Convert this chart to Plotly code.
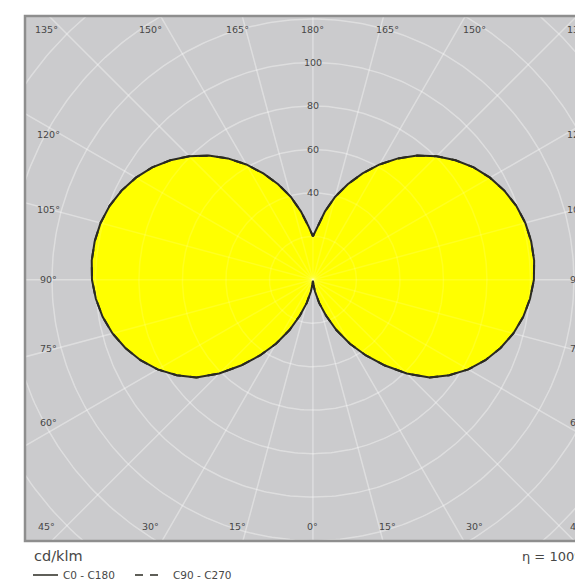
"""
Polar luminous intensity diagram (cd/klm) drawn on a square grey panel,
in the style of a photometric data sheet.
"""

import numpy as np
import plotly.graph_objects as go

# ------------------------------------------------------------------
# Data
# ------------------------------------------------------------------
# gamma angle in degrees, 0 = straight down, 180 = straight up
GAMMA = [0, 5, 10, 15, 20, 25, 30, 35, 40, 45, 50, 55, 60, 65, 70, 75, 80, 85, 90,
         95, 100, 105, 110, 115, 120, 125, 130, 135, 140, 145, 150, 155, 160, 165,
         170, 175, 180]

# intensity in cd/klm along the C0 / C180 half planes
C0_C180 = [0.5, 2.0, 5.5, 11.0, 17.5, 25.5, 34.0, 42.5, 51.5, 61.0, 70.0, 76.5,
           82.5, 87.5, 91.8, 95.4, 98.2, 100.2, 101.6, 102.1, 101.9, 101.1, 99.5,
           97.1, 94.0, 90.2, 85.6, 80.4, 74.6, 68.2, 61.3, 54.0, 46.8, 39.6, 32.0,
           25.0, 20.0]

# the C90 / C270 curve sits exactly under the C0 / C180 one
C90_C270 = list(C0_C180)

RADIAL_TICKS = [40, 60, 80, 100]
GRID_RADII = [20, 40, 60, 80, 100, 120, 140, 160, 180]
GRID_ANGLES = list(range(0, 360, 15))

TOP_LABELS = ["135°", "150°", "165°", "180°", "165°", "150°", "135°"]
BOTTOM_LABELS = ["45°", "30°", "15°", "0°", "15°", "30°", "45°"]
SIDE_LABELS = ["120°", "105°", "90°", "75°", "60°"]

UNIT_LABEL = "cd/klm"
LEGEND_LABELS = ["C0 - C180", "C90 - C270"]
EFFICIENCY_LABEL = "η = 100%"

# ------------------------------------------------------------------
# Layout constants (page pixels, body margin removed below)
# ------------------------------------------------------------------
PANEL_GREY = "#cbcbcd"
GRID_UNDER = "rgba(255,255,255,0.27)"
GRID_OVER = "rgba(255,255,255,0.13)"
FILL_COLOUR = "#ffff00"
CURVE_COLOUR = "#2a2a22"
TEXT_COLOUR = "#474747"
FONT = "DejaVu Sans"

X_RANGE = [-132.4, 120.5]
Y_RANGE = [-120.2, 121.4]

# label columns: inner ones in data units, the right-hand column sits past
# the window edge so it goes in paper units (data refs outside range are hidden)
TOP_X = [-122.5, -74.5, -34.5, 0, 34.5, 74.5]
TOP_Y = 115.0
BOTTOM_Y = -113.6
SIDE_Y = [67, 32.2, 0, -31.5, -65.5]
LEFT_X = -121.8
RIGHT_PAPER_X = (578 - 25) / 550


def half_plane(values, side):
    """Turn a gamma/intensity profile into x, y for one side of the diagram."""
    g = np.radians(GAMMA)
    v = np.asarray(values, dtype=float)
    return side * v * np.sin(g), -v * np.cos(g)


def outline(values):
    rx, ry = half_plane(values, 1)
    lx, ly = half_plane(values, -1)
    return np.concatenate([rx, lx[::-1]]), np.concatenate([ry, ly[::-1]])


def grid():
    xs, ys = [], []
    t = np.linspace(0, 2 * np.pi, 361)
    for r in GRID_RADII:
        xs += list(r * np.cos(t)) + [None]
        ys += list(r * np.sin(t)) + [None]
    for a in GRID_ANGLES:
        rad = np.radians(a)
        xs += [0, 220 * np.sin(rad), None]
        ys += [0, -220 * np.cos(rad), None]
    return xs, ys


fig = go.Figure()

gx, gy = grid()
fig.add_trace(go.Scatter(x=gx, y=gy, mode="lines",
                         line=dict(color=GRID_UNDER, width=1.5),
                         hoverinfo="skip", showlegend=False))

cx, cy = outline(C0_C180)
fig.add_trace(go.Scatter(x=cx, y=cy, mode="lines", fill="toself",
                         fillcolor=FILL_COLOUR, line=dict(width=0),
                         hoverinfo="skip", showlegend=False))

fig.add_trace(go.Scatter(x=gx, y=gy, mode="lines",
                         line=dict(color=GRID_OVER, width=1.5),
                         hoverinfo="skip", showlegend=False))

dx, dy = outline(C90_C270)
fig.add_trace(go.Scatter(x=dx, y=dy, mode="lines", name=LEGEND_LABELS[1],
                         line=dict(color=CURVE_COLOUR, width=2, dash="dash"),
                         showlegend=False))
fig.add_trace(go.Scatter(x=cx, y=cy, mode="lines", name=LEGEND_LABELS[0],
                         line=dict(color=CURVE_COLOUR, width=2),
                         showlegend=False))

annotations = []


def label(text, x, y, size=10, xref="x", yref="y", xanchor="center"):
    annotations.append(dict(text=text, x=x, y=y, xref=xref, yref=yref,
                            showarrow=False, xanchor=xanchor, yanchor="middle",
                            font=dict(family=FONT, size=size, color=TEXT_COLOUR)))


for t, x in zip(TOP_LABELS, TOP_X):
    label(t, x, TOP_Y, size=9.5)
for t, x in zip(BOTTOM_LABELS, TOP_X):
    label(t, x, BOTTOM_Y, size=9.5)
label(TOP_LABELS[-1], RIGHT_PAPER_X, TOP_Y, size=9.5, xref="paper")
label(BOTTOM_LABELS[-1], RIGHT_PAPER_X, BOTTOM_Y, size=9.5, xref="paper")
for t, y in zip(SIDE_LABELS, SIDE_Y):
    label(t, LEFT_X, y, size=9.5)
    label(t, RIGHT_PAPER_X, y, size=9.5, xref="paper")
for r in RADIAL_TICKS:
    label(str(r), 0, r, size=9.5)


# ------------------------------------------------------------------
# Footer: unit, line key and efficiency (paper coordinates)
# ------------------------------------------------------------------
def px(x):
    return (x - 25) / 550


def py(y):
    return (541 - y) / 525


label(UNIT_LABEL, px(32), py(556), size=14.5, xref="paper", yref="paper",
      xanchor="left")
label(LEGEND_LABELS[0], px(61), py(575), size=10.5, xref="paper", yref="paper",
      xanchor="left")
label(LEGEND_LABELS[1], px(171), py(575), size=10.5, xref="paper", yref="paper",
      xanchor="left")
label(EFFICIENCY_LABEL, px(520), py(556), size=13, xref="paper", yref="paper",
      xanchor="left")

shapes = [
    dict(type="rect", xref="paper", yref="paper", x0=0, x1=1.2, y0=0, y1=1,
         line=dict(color="#8e8e8e", width=2.5), fillcolor="rgba(0,0,0,0)",
         layer="above"),
    dict(type="line", xref="paper", yref="paper", x0=px(33), x1=px(58),
         y0=py(575), y1=py(575), line=dict(color=CURVE_COLOUR, width=1.5)),
    dict(type="line", xref="paper", yref="paper", x0=px(135), x1=px(158),
         y0=py(575), y1=py(575),
         line=dict(color=CURVE_COLOUR, width=1.5, dash="8px,7px")),
]

fig.update_layout(
    width=575,
    height=583,
    margin=dict(l=25, r=0, t=16, b=42, pad=0),
    paper_bgcolor="white",
    plot_bgcolor=PANEL_GREY,
    xaxis=dict(range=X_RANGE, visible=False, fixedrange=True),
    yaxis=dict(range=Y_RANGE, visible=False, fixedrange=True),
    annotations=annotations,
    shapes=shapes,
    showlegend=False,
)

# the figure is exactly the window size: no body margin, no scrollbars
fig.write_html(
    "out.html",
    config={"displayModeBar": False},
    post_script="document.body.style.margin='0';"
                "document.documentElement.style.overflow='hidden';"
                "document.body.style.overflow='hidden';",
)
